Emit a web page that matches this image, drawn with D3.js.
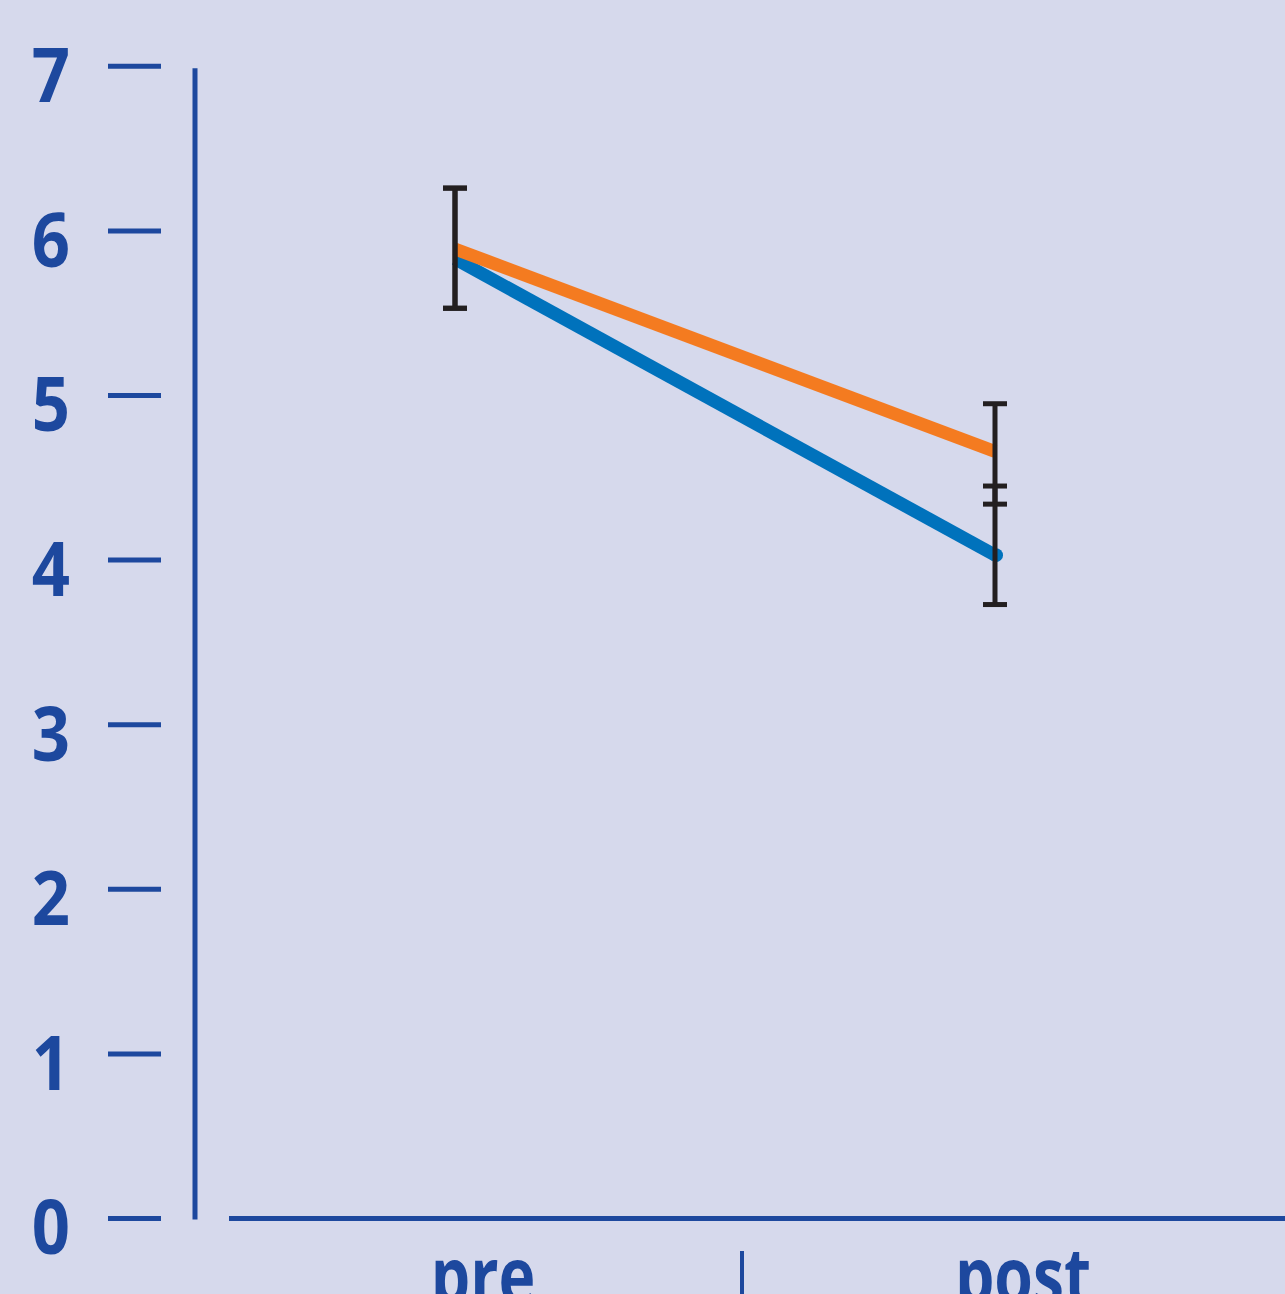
<!DOCTYPE html>
<html>
<head>
<meta charset="utf-8">
<script src="https://cdn.jsdelivr.net/npm/d3@7/dist/d3.min.js"></script>
<style>
  html, body { margin: 0; padding: 0; background: #d6d9ec; overflow: hidden; }
  svg { display: block; }
</style>
</head>
<body>
<svg id="chart" width="1285" height="1294"></svg>
<script>
// ---- data ----
const categories = ["pre", "post"];
const yTicks = [0, 1, 2, 3, 4, 5, 6, 7];
const orangeValues = [5.89, 4.66];
const orangeErrLow = [5.53, 4.34];
const orangeErrHigh = [6.26, 4.95];
const blueValues = [5.83, 4.03];
const blueErrLow = [5.53, 3.73];
const blueErrHigh = [6.26, 4.45];

// ---- styles ----
const axisColor = "#1d489e";
const orange = "#f47b20";
const blue = "#0072bc";
const errColor = "#231f20";

const svg = d3.select("#chart");
svg.append("rect").attr("width", 1285).attr("height", 1294).attr("fill", "#d6d9ec");

const y = d3.scaleLinear().domain([0, 7]).range([1218.5, 66.3]);
const x = d3.scalePoint().domain(categories).range([455, 995]);
const labelOffset = 28;

// y tick marks and labels
const yAxis = svg.append("g");
yAxis.selectAll("line.tick").data(yTicks).join("line")
  .attr("x1", 108).attr("x2", 161)
  .attr("y1", d => y(d)).attr("y2", d => y(d))
  .attr("stroke", axisColor).attr("stroke-width", 5);
yAxis.selectAll("text").data(yTicks).join("text")
  .attr("x", 51).attr("y", d => y(d) + 36)
  .attr("text-anchor", "middle")
  .attr("font-family", "'Open Sans', sans-serif")
  .attr("font-weight", "bold")
  .attr("font-size", 76)
  .attr("fill", axisColor)
  .attr("transform", `translate(51,0) scale(0.88,1) translate(-51,0)`)
  .text(d => d);

// vertical axis line
svg.append("line")
  .attr("x1", 195).attr("x2", 195)
  .attr("y1", y(7) + 2).attr("y2", y(0) + 1)
  .attr("stroke", axisColor).attr("stroke-width", 5);

// horizontal axis line
svg.append("line")
  .attr("x1", 229).attr("x2", 1285)
  .attr("y1", y(0)).attr("y2", y(0))
  .attr("stroke", axisColor).attr("stroke-width", 5);

// divider tick between categories
svg.append("line")
  .attr("x1", 742).attr("x2", 742)
  .attr("y1", 1251).attr("y2", 1294)
  .attr("stroke", axisColor).attr("stroke-width", 4);

// x labels
svg.selectAll("text.xl").data(categories).join("text")
  .attr("class", "xl")
  .attr("x", d => x(d) + labelOffset)
  .attr("y", 1304)
  .attr("text-anchor", "middle")
  .attr("font-family", "'Open Sans', sans-serif")
  .attr("font-weight", "bold")
  .attr("font-size", 78)
  .attr("fill", axisColor)
  .attr("transform", d => `translate(${x(d) + labelOffset},0) scale(0.8,1) translate(${-(x(d) + labelOffset)},0)`)
  .text(d => d);

// lines
const line = d3.line().x((d, i) => x(categories[i])).y(d => y(d));
svg.append("path").datum(blueValues)
  .attr("d", line).attr("fill", "none")
  .attr("stroke", blue).attr("stroke-width", 13)
  .attr("stroke-linecap", "butt");
svg.append("circle")
  .attr("cx", x(categories[1]) + 1).attr("cy", y(blueValues[1]))
  .attr("r", 7).attr("fill", blue);
svg.append("path").datum(orangeValues)
  .attr("d", line).attr("fill", "none")
  .attr("stroke", orange).attr("stroke-width", 13)
  .attr("stroke-linecap", "butt");

// error bars
function errorBars(lows, highs) {
  const g = svg.append("g").attr("stroke", errColor).attr("stroke-width", 5);
  categories.forEach((c, i) => {
    const cx = x(c);
    g.append("line").attr("x1", cx).attr("x2", cx)
      .attr("y1", y(highs[i])).attr("y2", y(lows[i]));
    g.append("line").attr("x1", cx - 12).attr("x2", cx + 12)
      .attr("y1", y(highs[i])).attr("y2", y(highs[i]));
    g.append("line").attr("x1", cx - 12).attr("x2", cx + 12)
      .attr("y1", y(lows[i])).attr("y2", y(lows[i]));
  });
}
errorBars(blueErrLow, blueErrHigh);
errorBars(orangeErrLow, orangeErrHigh);
</script>
</body>
</html>
